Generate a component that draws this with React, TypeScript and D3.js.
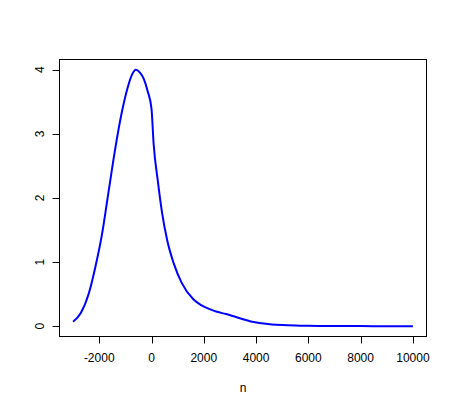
import React from "react";
import * as d3 from "d3";

const xs = [
  -3000, -2700, -2400, -2150, -1900, -1650, -1400, -1150, -900, -750, -600,
  -450, -300, -150, 0, 80, 240, 400, 600, 850, 1150, 1600, 1900, 2200, 2500,
  2850, 3100, 3500, 3800, 4200, 4600, 5000, 5500, 6000, 7000, 8000, 9000,
  10000,
];
const ys = [
  0.07, 0.21, 0.51, 0.92, 1.42, 2.08, 2.74, 3.31, 3.74, 3.92, 4.0, 3.96, 3.86,
  3.67, 3.39, 2.85, 2.27, 1.78, 1.34, 0.98, 0.68, 0.42, 0.33, 0.27, 0.225,
  0.19, 0.16, 0.11, 0.075, 0.047, 0.029, 0.018, 0.01, 0.006, 0.003, 0.002,
  0.001, 0.001,
];
const xTicks = [-2000, 0, 2000, 4000, 6000, 8000, 10000];
const yTicks = [0, 1, 2, 3, 4];

const W = 457;
const H = 410;
const left = 59.5;
const right = 426.5;
const top = 59.5;
const bottom = 336.5;

export default function App() {
  const x = d3.scaleLinear().domain([-3520, 10520]).range([left, right]);
  const y = d3.scaleLinear().domain([-0.16, 4.16]).range([bottom, top]);
  const line = d3
    .line<number>()
    .x((_, i) => x(xs[i]))
    .y((d) => y(d))
    .curve(d3.curveMonotoneX);

  const font = "Liberation Sans, Arial, sans-serif";
  return (
    <svg
      width={W}
      height={H}
      style={{ position: "absolute", left: 0, top: 0, background: "white" }}
      fontFamily={font}
      fontSize={12}
    >
      <rect x={0} y={0} width={W} height={H} fill="white" />
      <path d={line(ys) || ""} fill="none" stroke="#0000ff" strokeWidth={2} />
      <rect
        x={left}
        y={top}
        width={right - left}
        height={bottom - top}
        fill="none"
        stroke="#000"
        strokeWidth={1}
      />
      {xTicks.map((t) => (
        <g key={t}>
          <line
            x1={Math.round(x(t)) + 0.5}
            x2={Math.round(x(t)) + 0.5}
            y1={bottom}
            y2={bottom + 7}
            stroke="#000"
          />
          <text x={x(t)} y={362} textAnchor="middle" fill="#000">
            {t}
          </text>
        </g>
      ))}
      {yTicks.map((t) => (
        <g key={t}>
          <line
            x1={left - 7}
            x2={left}
            y1={Math.round(y(t)) + 0.5}
            y2={Math.round(y(t)) + 0.5}
            stroke="#000"
          />
          <text
            transform={`translate(44,${y(t)}) rotate(-90)`}
            textAnchor="middle"
            fill="#000"
          >
            {t}
          </text>
        </g>
      ))}
      <text x={(left + right) / 2} y={392} textAnchor="middle" fill="#000">
        n
      </text>
    </svg>
  );
}
